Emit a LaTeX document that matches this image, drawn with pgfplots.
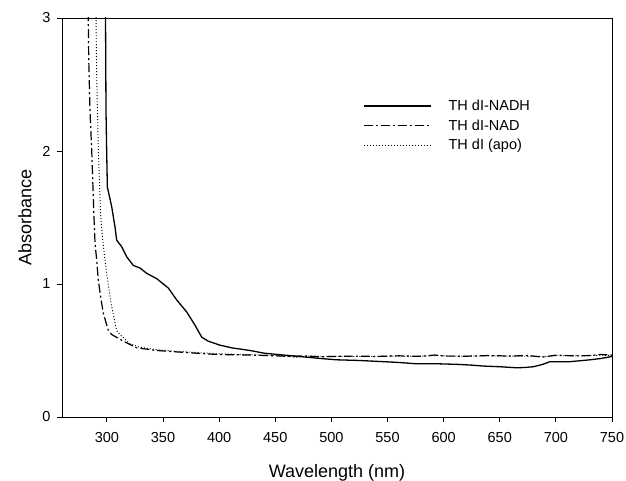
\documentclass[border=0pt]{standalone}
\usepackage{fontspec}
\setmainfont{Liberation Sans}
\usepackage{pgfplots}
\pgfplotsset{compat=1.18}

\begin{document}
\begin{tikzpicture}
\useasboundingbox (-62pt,-64pt) rectangle (564pt,417pt);
\begin{axis}[
    scale only axis,
    width=550pt, height=399pt,
    xmin=260, xmax=750,
    ymin=0, ymax=3,
    xtick={300,350,...,750},
    ytick={0,1,2,3},
    tick pos=left,
    tick align=outside,
    major tick length=5pt,
    axis line style={line width=0.9pt},
    tick style={line width=0.9pt, black},
    /pgf/number format/assume math mode=true,
    tick label style={font=\fontsize{14.5}{17}\selectfont},
    xticklabel style={yshift=-7pt},
    yticklabel style={xshift=-3pt},
    xlabel={Wavelength (nm)},
    ylabel={Absorbance},
    label style={font=\fontsize{18}{21}\selectfont},
    xlabel style={at={(axis description cs:0.5,-0.1396)}, anchor=center},
    ylabel style={at={(axis description cs:-0.0673,0.5)}, anchor=center},
    legend style={at={(rel axis cs:0.542,0.805)}, anchor=north west,
        draw=none, fill=none, font=\fontsize{14.5}{17}\selectfont,
        row sep=3.5pt, nodes={inner sep=2pt},
        /tikz/every odd column/.append style={column sep=15pt}},
    legend cell align=left,
    legend image code/.code={\draw[#1] (0pt,0pt) -- (67pt,0pt);},
]

% TH dI-NADH
\addplot[black, line width=1.3pt] coordinates {
(298.6,3.3)(299.2,2.3)(299.8,2.0)(300.4,1.73)(304.3,1.58)(307.2,1.43)(308.7,1.33)
(313.2,1.28)(317.6,1.205)(323.5,1.14)(329.5,1.12)(335.5,1.08)(344.4,1.04)
(354.7,0.97)(362.2,0.88)(371.1,0.79)(378.5,0.69)(384.5,0.60)(390.3,0.57)
(400.8,0.54)(411.2,0.52)(427.5,0.50)(440,0.48)(457.2,0.466)(478,0.45)
(490,0.44)(504.7,0.43)(525,0.425)(546.3,0.416)(560,0.41)(576,0.40)
(595,0.40)(611.7,0.396)(625,0.39)(635.4,0.383)(650,0.378)(665.1,0.37)
(672,0.372)(680,0.378)(688,0.395)(694.8,0.416)(712.6,0.416)(730.4,0.43)
(740,0.44)(750,0.455)
};
\addlegendentry{TH dI-NADH}

% TH dI-NAD
\addplot[black, line width=1.2pt, dash pattern=on 9pt off 3pt on 2pt off 3pt] coordinates {
(283.0,3.3)(283.8,2.7)(284.9,2.31)(286.5,2.0)(288.5,1.5)(289.4,1.31)
(290.9,1.18)(292.3,1.03)(294.5,0.90)(296.8,0.78)(301.3,0.65)(304.3,0.62)
(314.6,0.57)(326.6,0.52)(344.4,0.50)(368.1,0.486)(397.8,0.47)(427.5,0.466)
(450,0.46)(465,0.455)(475,0.46)(490,0.452)(500,0.455)(520,0.458)
(540,0.455)(560,0.46)(580,0.456)(592,0.466)(600,0.458)(620,0.457)
(640,0.462)(660,0.458)(675,0.463)(688,0.45)(700,0.465)(715,0.46)
(730,0.462)(740,0.47)(750,0.465)
};
\addlegendentry{TH dI-NAD}

% TH dI (apo)
\addplot[black, line width=0.9pt, dash pattern=on 1pt off 2pt] coordinates {
(290.0,3.3)(290.8,2.6)(292.4,2.0)(294.5,1.5)(296.3,1.33)(298.3,1.18)
(299.8,1.08)(302,0.95)(304.3,0.83)(308.7,0.65)(311.7,0.62)(320.6,0.55)
(329.5,0.525)(345,0.505)(370,0.49)(400,0.475)(430,0.468)(455,0.462)
(468,0.448)(480,0.458)(500,0.456)(525,0.455)(550,0.458)(575,0.455)
(595,0.463)(615,0.457)(640,0.46)(665,0.457)(690,0.455)(705,0.462)
(725,0.458)(740,0.465)(750,0.462)
};
\addlegendentry{TH dI (apo)}

\end{axis}
\end{tikzpicture}
\end{document}
